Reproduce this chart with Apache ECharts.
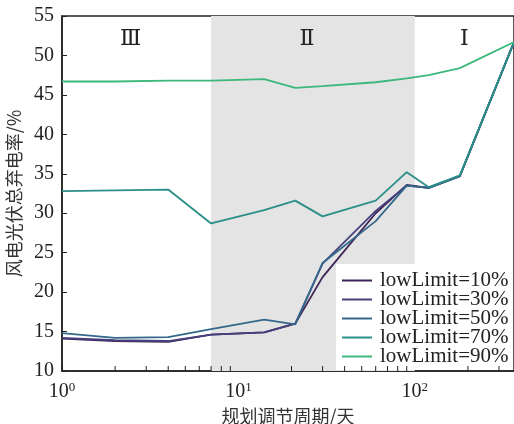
<!DOCTYPE html>
<html>
<head>
    <meta charset="UTF-8">
    <title>弃电率</title>
    <script src="https://cdn.jsdelivr.net/npm/echarts@6/dist/echarts.min.js"></script>
    <style>
        html, body { margin: 0; padding: 0; background: #fff; }
    </style>
</head>
<body>
    <div id="main" style="width: 514px;height:424px;"></div>
    <script type="text/javascript">
        // 规划调节周期(天)
        var periods = [1, 2, 4, 7, 14, 21, 30, 60, 90, 120, 180, 365];
        var seriesNames = ['lowLimit=10%', 'lowLimit=30%', 'lowLimit=50%', 'lowLimit=70%', 'lowLimit=90%'];
        var ll10 = [14.1, 13.8, 13.7, 14.6, 14.9, 16.0, 21.9, 30.0, 33.6, 33.2, 34.7, 51.7];
        var ll30 = [14.2, 13.9, 13.8, 14.6, 14.9, 16.0, 23.6, 30.3, 33.5, 33.2, 34.7, 51.7];
        var ll50 = [14.8, 14.2, 14.3, 15.3, 16.5, 15.9, 23.7, 29.0, 33.5, 33.2, 34.7, 51.7];
        var ll70 = [32.8, 32.9, 33.0, 28.7, 30.4, 31.6, 29.6, 31.6, 35.2, 33.3, 34.8, 51.7];
        var ll90 = [46.7, 46.7, 46.8, 46.8, 47.0, 45.9, 46.1, 46.6, 47.1, 47.5, 48.4, 51.7];
        var allValues = [ll10, ll30, ll50, ll70, ll90];
        var colors = ['#3d2456', '#46407f', '#33688a', '#2a8f86', '#3cb87a'];
        // 阶段划分
        var stageBounds = [1, 7, 100, 365];
        var stageNames = ['Ⅲ', 'Ⅱ', 'Ⅰ'];
        // 对数轴次刻度
        var minorTicks = [2, 3, 4, 5, 6, 7, 8, 9, 20, 30, 40, 50, 60, 70, 80, 90, 200, 300];

        var serif = 'Liberation Serif';
        var myChart = echarts.init(document.getElementById('main'));

        var series = [];
        for (var i = 0; i < seriesNames.length; i++) {
            var pts = [];
            for (var j = 0; j < periods.length; j++) {
                pts.push([periods[j], allValues[i][j]]);
            }
            series.push({
                name: seriesNames[i],
                type: 'line',
                data: pts,
                symbol: 'none',
                z: 3,
                lineStyle: { color: colors[i], width: 1.8 },
                itemStyle: { color: colors[i] }
            });
        }

        // 阴影区和阶段标注
        var areas = [];
        for (var k = 0; k < stageNames.length; k++) {
            areas.push([
                {
                    xAxis: stageBounds[k],
                    itemStyle: { color: k === 1 ? '#e4e4e4' : 'rgba(0,0,0,0)' },
                    label: {
                        show: true,
                        formatter: stageNames[k],
                        position: 'insideTop',
                        distance: 12,
                        offset: [k === 2 ? 0 : -6, 0],
                        fontFamily: 'DejaVu Serif',
                        fontSize: 22,
                        color: '#222'
                    }
                },
                { xAxis: stageBounds[k + 1] }
            ]);
        }
        series[0].markArea = { silent: true, data: areas, z: 1 };

        // 次刻度，按对数坐标画
        series.push({
            type: 'custom',
            name: 'minor',
            silent: true,
            z: 5,
            data: minorTicks.map(function (v) { return [v, 10]; }),
            renderItem: function (params, api) {
                var p = api.coord([api.value(0), api.value(1)]);
                return {
                    type: 'line',
                    shape: { x1: p[0], y1: p[1], x2: p[0], y2: p[1] - 5 },
                    style: { stroke: '#222', lineWidth: 1 }
                };
            }
        });

        var option = {
            animation: false,
            grid: {
                left: 62,
                right: 0,
                top: 16,
                bottom: 53,
                outerBoundsMode: 'none',
                containLabel: false,
                show: true,
                borderColor: '#222',
                borderWidth: 1.5,
                backgroundColor: 'transparent'
            },
            legend: {
                data: seriesNames,
                orient: 'vertical',
                left: 336,
                top: 264,
                padding: [6, 2, 3, 5],
                backgroundColor: '#fff',
                itemWidth: 30,
                itemHeight: 12,
                itemGap: -2,
                itemStyle: { opacity: 0 },
                textStyle: {
                    fontFamily: serif,
                    fontSize: 21,
                    color: '#222',
                    padding: [0, 0, 0, 3]
                }
            },
            xAxis: {
                type: 'log',
                logBase: 10,
                min: 1,
                max: 365,
                name: '规划调节周期/天',
                nameLocation: 'middle',
                nameGap: 28,
                nameTextStyle: { fontFamily: 'Noto Sans CJK SC', fontSize: 18, color: '#333' },
                axisLine: { lineStyle: { color: '#222', width: 1.5 } },
                axisTick: { inside: true, length: 8, lineStyle: { color: '#222' } },
                splitLine: { show: false },
                axisLabel: {
                    margin: 10,
                    showMaxLabel: false,
                    formatter: function (v) {
                        var e = Math.round(Math.log(v) / Math.LN10);
                        return '{b|10}{s|' + e + '}';
                    },
                    rich: {
                        b: { fontFamily: serif, fontSize: 20, color: '#222' },
                        s: { fontFamily: serif, fontSize: 13, color: '#222', padding: [0, 0, 9, 0] }
                    }
                }
            },
            yAxis: {
                type: 'value',
                min: 10,
                max: 55,
                interval: 5,
                name: '风电光伏总弃电率/%',
                nameLocation: 'middle',
                nameGap: 36,
                nameTextStyle: { fontFamily: 'Noto Sans CJK SC', fontSize: 18, color: '#333' },
                axisLine: { show: true, lineStyle: { color: '#222', width: 1.5 } },
                axisTick: { show: true, inside: true, length: 5, lineStyle: { color: '#222' } },
                splitLine: { show: false },
                axisLabel: { margin: 8, fontFamily: serif, fontSize: 20, color: '#222' }
            },
            series: series
        };
        myChart.setOption(option);
    </script>
</body>
</html>
